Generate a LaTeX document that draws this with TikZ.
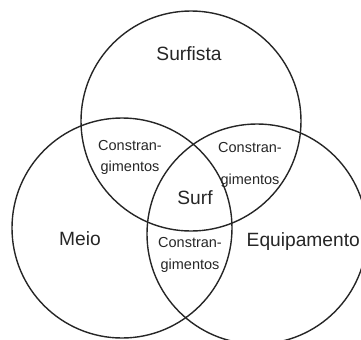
\documentclass[tikz,border=0pt]{standalone}
\usepackage{fontspec}
\setmainfont{Liberation Sans}
\begin{document}
\begin{tikzpicture}[x=1bp,y=-1bp,
  set/.style={circle,draw=black!85,line width=1.4bp,minimum size=220bp,inner sep=0pt},
  big/.style={anchor=base,inner sep=0pt,text=black!85,font=\fontsize{19.2bp}{22bp}\selectfont},
  small/.style={anchor=base,inner sep=0pt,text=black!85,font=\fontsize{14.5bp}{17bp}\selectfont}]
\useasboundingbox (0,0) rectangle (361,340);
\clip (0,0) rectangle (361,340);
\node[set] (surfista) at (191,121) {};
\node[set] (meio) at (122,228) {};
\node[set] (equip) at (257,234) {};
\node[big] (lsurfista) at (189,60.7) {Surfista};
\node[big] (lmeio) at (80,245) {Meio};
\node[big,anchor=base west] (lequip) at (246.5,246) {Equipamento};
\node[big] (lsurf) at (195,204) {Surf};
\node[small] (c1a) at (130,150) {Constran-};
\node[small] (c1b) at (130,171.7) {gimentos};
\node[small] (c2a) at (250,152.7) {Constran-};
\node[small] (c2b) at (250,184) {gimentos};
\node[small] (c3a) at (190,247.7) {Constran-};
\node[small] (c3b) at (190,269) {gimentos};
\end{tikzpicture}
\end{document}
